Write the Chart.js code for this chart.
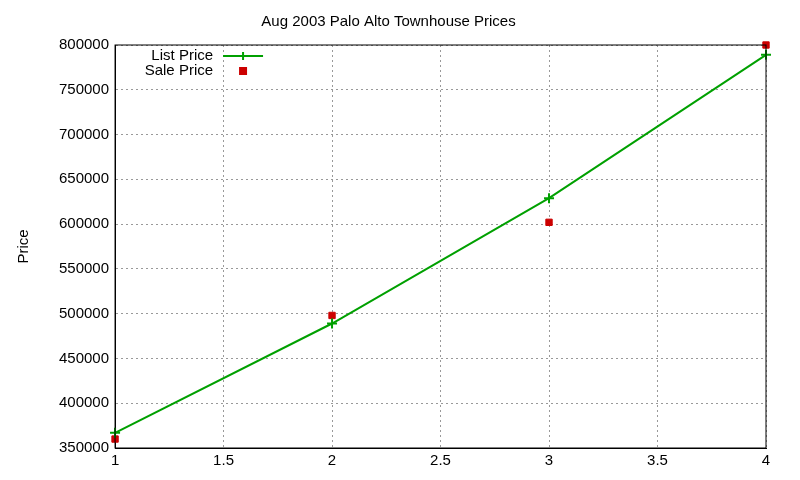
<!DOCTYPE html>
<html><head><meta charset="utf-8">
<script src="https://cdn.jsdelivr.net/npm/chart.js@4"></script>
<style>html,body{margin:0;padding:0;background:#fff}#w{width:800px;height:480px}</style>
</head><body><div id="w"><canvas id="c"></canvas></div>
<script>
const xValues=[1,2,3,4];
const listPrice=[367000,489000,629000,789000];
const salePrice=[360000,498000,602000,800000];
const font='"Liberation Sans", Arial, sans-serif';
const legendPlugin={id:'lg',afterDraw(ch){
  const c=ch.ctx,a=ch.chartArea;c.save();
  c.font='15px '+font;c.fillStyle='#000';c.textAlign='right';c.textBaseline='middle';
  const tx=a.left+98,lx=a.left+108,ly1=a.top+11,ly2=a.top+26;
  c.fillText('List Price',tx,ly1);c.fillText('Sale Price',tx,ly2);
  c.strokeStyle='#00a000';c.lineWidth=2;c.beginPath();c.moveTo(lx,ly1);c.lineTo(lx+40,ly1);c.stroke();
  c.beginPath();c.moveTo(lx+20,ly1-4);c.lineTo(lx+20,ly1+4);c.stroke();
  c.fillStyle='#cc0000';c.fillRect(lx+16,ly2-4,8,8);
  c.restore();}};
new Chart(document.getElementById('c'),{
 type:'scatter',
 data:{datasets:[
  {label:'List Price',data:xValues.map((x,i)=>({x,y:listPrice[i]})),showLine:true,clip:false,borderColor:'#00a000',backgroundColor:'#00a000',borderWidth:2,pointStyle:'cross',pointRadius:5,pointBorderWidth:2},
  {label:'Sale Price',data:xValues.map((x,i)=>({x,y:salePrice[i]})),showLine:false,clip:false,pointStyle:'rect',pointRadius:4.5,backgroundColor:'#cc0000',borderColor:'#cc0000'}
 ]},
 options:{responsive:true,maintainAspectRatio:false,animation:false,
  layout:{padding:{left:11,right:34,top:3,bottom:6}},
  plugins:{legend:{display:false},tooltip:{enabled:false},
   title:{display:true,text:'Aug 2003 Palo Alto Townhouse Prices',color:'#000',font:{family:font,size:15,weight:'normal'},padding:{top:10,bottom:14}}},
  scales:{
   x:{type:'linear',min:1,max:4,ticks:{stepSize:0.5,color:'#000',font:{family:font,size:15},padding:4,callback:v=>String(v)},
      grid:{color:'#999',tickLength:0},border:{color:'#000',width:1,dash:[2,3]}},
   y:{min:350000,max:800000,ticks:{stepSize:50000,color:'#000',font:{family:font,size:15},padding:6,callback:v=>String(v)},
      title:{display:true,text:'Price',color:'#000',font:{family:font,size:15},padding:{bottom:20}},
      grid:{color:'#999',tickLength:0},border:{color:'#000',width:1,dash:[2,3]}}
  }},
 plugins:[legendPlugin,{id:'box',afterDraw(ch){const c=ch.ctx,a=ch.chartArea;c.save();c.strokeStyle='#000';c.lineWidth=1;c.strokeRect(a.left,a.top,a.right-a.left,a.bottom-a.top);c.restore();}}]
});
</script></body></html>
